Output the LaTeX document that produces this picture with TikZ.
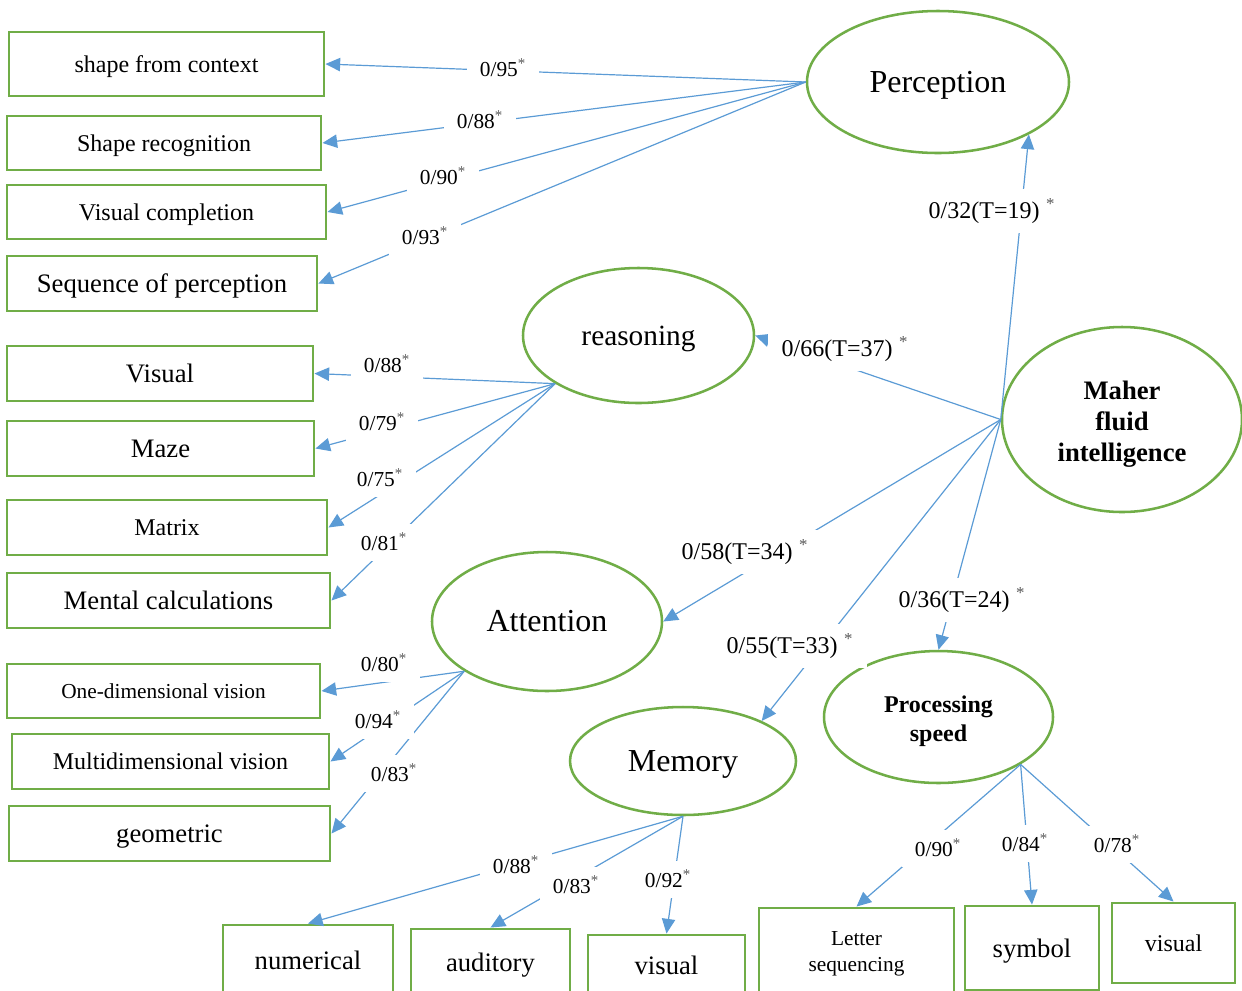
\documentclass[tikz,border=0pt]{standalone}
\usepackage{fontspec}
\setmainfont{Liberation Serif}
\usetikzlibrary{arrows.meta,shapes.geometric}
\definecolor{gr}{HTML}{70AD47}
\definecolor{bl}{HTML}{5B9BD5}
\newcommand{\sig}{\textsuperscript{\color{black!65}*}}
\newcommand{\fs}[2]{\fontsize{#1}{#2}\selectfont}
\newcommand{\lines}[2]{\raisebox{#1}[\height][\depth]{\begin{tabular}{@{}c@{}}#2\end{tabular}}}
\begin{document}
\begin{tikzpicture}[x=0.75pt,y=-0.75pt,
  f16/.style={font=\fs{16}{19}, text height=11.2pt, text depth=0pt},
  f18/.style={font=\fs{18}{21}, text height=12.6pt, text depth=0pt},
  f20/.style={font=\fs{20}{24}, text height=14pt, text depth=0pt},
  f22/.style={font=\fs{22}{26}, text height=14.5pt, text depth=0pt},
  f24/.style={font=\fs{24}{28}, text height=15pt, text depth=0pt},
  box/.style={draw=gr, line width=2.2pt, inner sep=0pt, f18},
  ell/.style={ellipse, draw=gr, line width=1.9pt, inner sep=0pt, f24},
  arr/.style={draw=bl, line width=0.9pt, -{Triangle[length=11pt,width=10pt]}},
  lbl/.style={fill=white, inner xsep=10pt, inner ysep=7pt, font=\fs{16}{19}},
  tlbl/.style={lbl, font=\fs{18}{21}}]
\useasboundingbox (0,0) rectangle (1242,990);
\clip (0,0) rectangle (1242,990);
% left column boxes
\node[box, minimum width=236.25pt, minimum height=48pt] (sfc) at (166.5,64) {shape from context};
\node[box, minimum width=235.5pt, minimum height=40.5pt] (shr) at (164,143) {Shape recognition};
\node[box, minimum width=239.25pt, minimum height=40.5pt] (vc) at (166.5,212) {Visual completion};
\node[box, minimum width=232.5pt, minimum height=41.25pt, f20] (sop) at (162,283.5) {Sequence of perception};
\node[box, minimum width=229.5pt, minimum height=41.25pt, f20] (vis) at (160,373.5) {Visual};
\node[box, minimum width=230.25pt, minimum height=41.25pt, f20] (maze) at (160.5,448.5) {Maze};
\node[box, minimum width=240pt, minimum height=41.25pt] (mat) at (167,527.5) {Matrix};
\node[box, minimum width=242.25pt, minimum height=41.25pt, f20] (mc) at (168.5,600.5) {Mental calculations};
\node[box, minimum width=234.75pt, minimum height=40.5pt, f16] (od) at (163.5,691) {One-dimensional vision};
\node[box, minimum width=237.75pt, minimum height=41.25pt] (md) at (170.5,761.5) {Multidimensional vision};
\node[box, minimum width=240.75pt, minimum height=41.25pt, f20] (geo) at (169.5,833.5) {geometric};
% bottom boxes
\node[box, minimum width=127.5pt, minimum height=52.5pt, f20] (num) at (308,960) {numerical};
\node[box, minimum width=119.25pt, minimum height=49.5pt, f20] (aud) at (490.5,962) {auditory};
\node[box, minimum width=117.75pt, minimum height=45pt, f20] (visb) at (666.5,965) {visual};
\node[box, minimum width=146.25pt, minimum height=63pt, font=\fs{16}{19.5}, text height=, text depth=] (ls) at (856.5,950) {\lines{-2.2pt}{Letter\\sequencing}};
\node[box, minimum width=100.5pt, minimum height=63pt, f20] (sym) at (1032,948) {symbol};
\node[box, minimum width=92.25pt, minimum height=60pt] (visc) at (1173.5,943) {visual};
% ellipses
\node[ell, minimum width=196.5pt, minimum height=106.5pt] (per) at (938,82) {Perception};
\node[ell, minimum width=173.25pt, minimum height=101.25pt, f22] (rea) at (638.5,335.5) {reasoning};
\node[ell, minimum width=180pt, minimum height=138.75pt, font=\bfseries\fs{20}{23.25}, text height=, text depth=] (mfi) at (1122,419.5) {\lines{-3.5pt}{Maher\\fluid\\intelligence}};
\node[ell, minimum width=172.5pt, minimum height=104.25pt] (att) at (547,621.5) {Attention};
\node[ell, minimum width=171.75pt, minimum height=99pt, font=\bfseries\fs{18}{21.75}, text height=, text depth=] (pro) at (938.5,717) {\lines{-3pt}{Processing\\speed}};
\node[ell, minimum width=169.5pt, minimum height=81pt] (mem) at (683,761) {Memory};
% connectors
\draw[arr] (per.west) -- (sfc.east);
\draw[arr] (per.west) -- (shr.east);
\draw[arr] (per.west) -- (vc.east);
\draw[arr] (per.west) -- (sop.east);
\draw[arr] (mfi.west) -- (per.-30);
\draw[arr] (mfi.west) -- (rea.east);
\draw[arr] (mfi.west) -- (att.east);
\draw[arr] (mfi.west) -- (mem.27);
\draw[arr] (mfi.west) -- (pro.north);
\draw[arr] (rea.210) -- (vis.east);
\draw[arr] (rea.210) -- (maze.east);
\draw[arr] (rea.210) -- (mat.east);
\draw[arr] (rea.210) -- (mc.east);
\draw[arr] (att.211) -- (od.east);
\draw[arr] (att.211) -- (md.east);
\draw[arr] (att.211) -- (geo.east);
\draw[arr] (mem.south) -- (num.north);
\draw[arr] (mem.south) -- (aud.north);
\draw[arr] (mem.south) -- (visb.north);
\draw[arr] (pro.-30) -- (ls.north);
\draw[arr] (pro.-30) -- (sym.north);
\draw[arr] (pro.-30) -- (visc.north);
% labels
\node[lbl] (l1) at (503,68) {0/95\sig};
\node[lbl] (l2) at (480,120) {0/88\sig};
\node[lbl] (l3) at (443,176) {0/90\sig};
\node[lbl] (l4) at (425,236) {0/93\sig};
\node[tlbl] (l5) at (992,211) {0/32(T=19)\hspace{5pt}\sig};
\node[tlbl] (l6) at (845,349) {0/66(T=37)\hspace{5pt}\sig};
\node[tlbl] (l7) at (745,552) {0/58(T=34)\hspace{5pt}\sig};
\node[tlbl] (l8) at (790,646) {0/55(T=33)\hspace{5pt}\sig};
\node[tlbl] (l9) at (962,600) {0/36(T=24)\hspace{5pt}\sig};
\node[lbl] (l10) at (387,364) {0/88\sig};
\node[lbl] (l11) at (382,422) {0/79\sig};
\node[lbl] (l12) at (380,478) {0/75\sig};
\node[lbl] (l13) at (384,542) {0/81\sig};
\node[lbl] (l14) at (384,663) {0/80\sig};
\node[lbl] (l15) at (378,720) {0/94\sig};
\node[lbl] (l16) at (394,773) {0/83\sig};
\node[lbl] (l17) at (516,865) {0/88\sig};
\node[lbl] (l18) at (576,885) {0/83\sig};
\node[lbl] (l19) at (668,879) {0/92\sig};
\node[lbl] (l20) at (938,848) {0/90\sig};
\node[lbl] (l21) at (1025,843) {0/84\sig};
\node[lbl] (l22) at (1117,844) {0/78\sig};
\end{tikzpicture}
\end{document}
